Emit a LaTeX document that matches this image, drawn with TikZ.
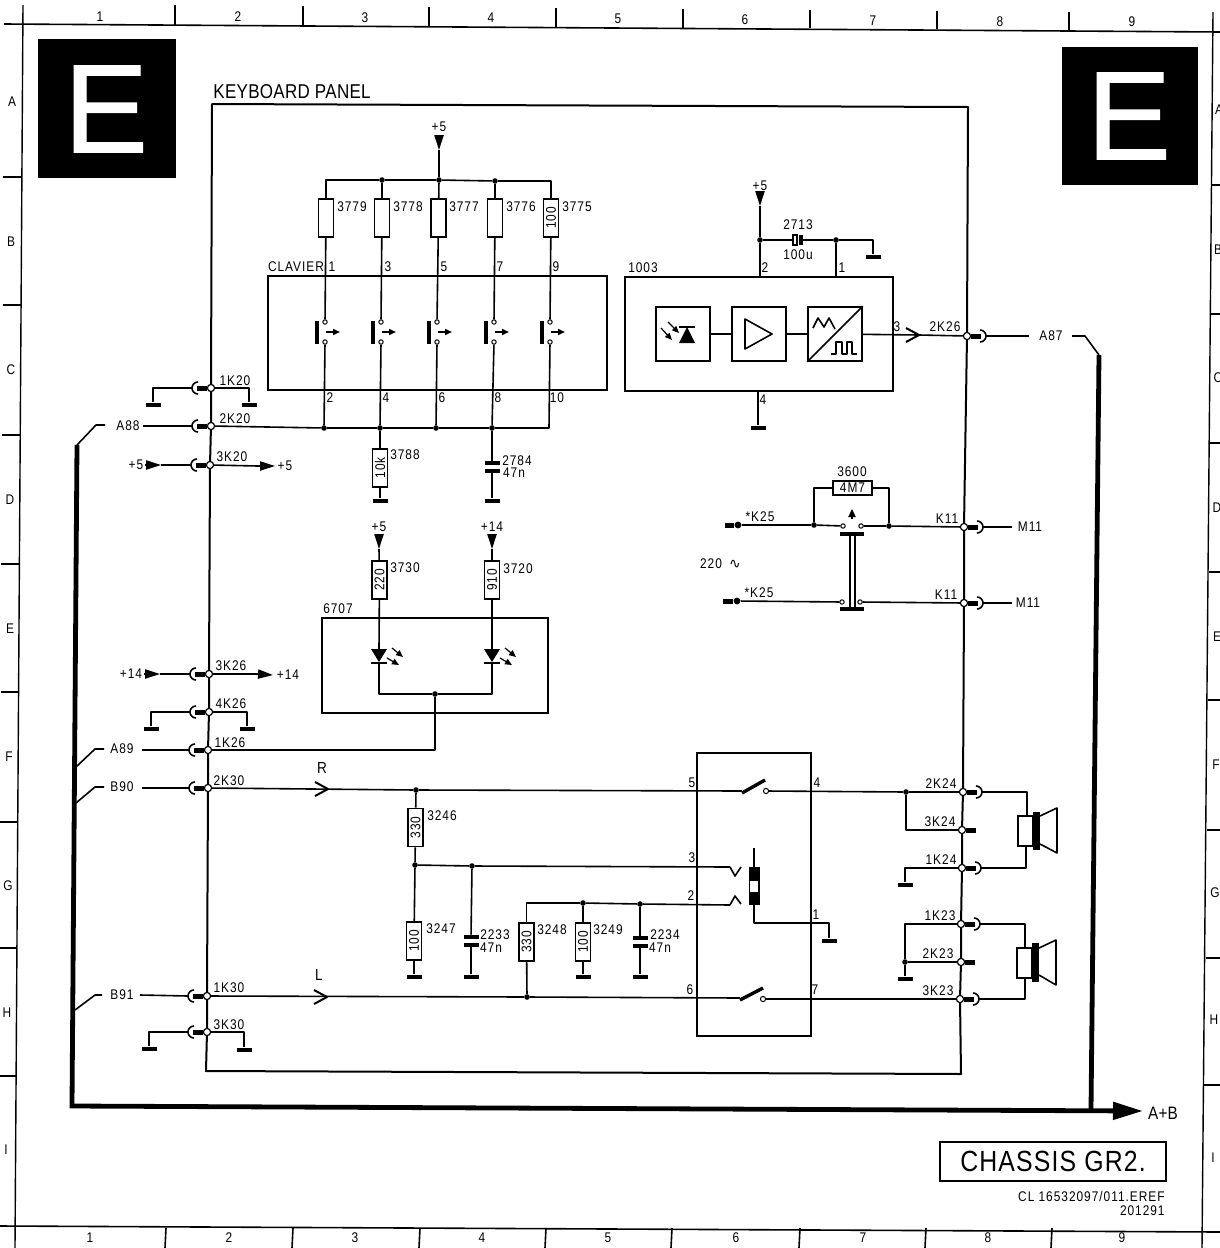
\documentclass[tikz,border=0pt]{standalone}
\usepackage{fontspec}
\usetikzlibrary{arrows.meta,fit}
\setmainfont[FakeStretch=0.85,LetterSpace=7]{Liberation Sans}
\newfontfamily\bigletterfont[FakeBold=1]{Liberation Sans}
\newfontfamily\widefont[FakeStretch=0.85,LetterSpace=4]{Liberation Sans}
\newfontfamily\kbfont[FakeStretch=0.85,LetterSpace=1.5]{Liberation Sans}
\newfontfamily\symfont{DejaVu Sans}
\newcounter{lbl}
\newcommand{\lab}[3]{\stepcounter{lbl}\node[txt] (t\arabic{lbl}) at (#1,#2) {#3};}
\newcommand{\plugL}[1]{\draw[stub] (#1.west) -- ([shift={(-14,0)}]#1.center);
  \draw[wire] ([shift={(-13,-6)}]#1.center) arc[start angle=90,end angle=270,radius=3pt];
  \coordinate (#1c) at ([shift={(-19,0)}]#1.center);}
\newcommand{\stubR}[1]{\draw[stub] (#1.east) -- ([shift={(14,0)}]#1.center);}
\newcommand{\plugR}[1]{\stubR{#1}
  \draw[wire] ([shift={(13,-6)}]#1.center) arc[start angle=90,end angle=-90,radius=3pt];
  \coordinate (#1c) at ([shift={(19,0)}]#1.center);}
\newcommand{\keyswitch}[2]{%
  \node[cont] (#1a) at (#2,322) {};
  \node[cont] (#1b) at (#2,342) {};
  \draw[line width=2pt] (#2-8,321) -- (#2-8,344);
  \draw[wire,-{Triangle[length=3.5pt,width=3pt]}] (#2+1,332) -- (#2+15,332);}
\newcommand{\chevR}[2]{\draw[wire,line width=1pt] (#1-13,#2-7) -- (#1,#2) -- (#1-13,#2+7);}
\tikzset{
  x=0.5pt,y=-0.5pt,
  wire/.style={line width=0.8pt,line join=round},
  bus/.style={line width=2.4pt,line join=miter},
  stub/.style={line width=2.5pt},
  box/.style={draw,line width=1pt,inner sep=0pt},
  junc/.style={circle,draw,fill=white,line width=0.6pt,inner sep=0pt,minimum size=3.6pt},
  cont/.style={circle,draw,fill=white,line width=0.5pt,inner sep=0pt,minimum size=2.2pt},
  dotn/.style={circle,fill=black,inner sep=0pt,minimum size=2.8pt},
  gnd/.style={rectangle,fill=black,inner sep=0pt,minimum width=7.5pt,minimum height=2.4pt},
  res/.style={draw,line width=0.8pt,rotate=90,inner sep=0pt,minimum width=19pt,minimum height=7.6pt,font=\fontsize{7}{8}\selectfont},
  resh/.style={draw,line width=0.8pt,inner sep=0pt,minimum width=19.5pt,minimum height=7pt,font=\fontsize{7}{8}\selectfont},
  txt/.style={inner sep=0pt,font=\fontsize{7}{8}\selectfont},
  supply/.style={line width=0.8pt,-{Triangle[length=7.5pt,width=4.6pt]}},
  led/.style={line width=0.6pt,-{Triangle[length=3.5pt,width=3pt]}},
}
\begin{document}
\begin{tikzpicture}
\useasboundingbox (0,0) rectangle (1220,1248);
\fill[white] (0,0) rectangle (1220,1248);
% sheet frame
\draw[line width=0.8pt] (4,24) -- (1220,32);
\draw[line width=0.8pt] (0,1226) -- (1220,1232);
\draw[line width=0.7pt] (23,5) -- (15,1248);
\draw[line width=0.7pt] (1213,12) -- (1202,1248);
\foreach \a/\b/\c in {175/5/25,303/6/26,429/7/26,556/8/27,683/9/28,810/10/28,937/11/29,1069/12/31}
  \draw[line width=0.8pt] (\a,\b) -- (\a,\c);
\foreach \a in {166,293,420,546,672,800,926,1052}
  \draw[line width=0.8pt] (\a,1228) -- (\a-1,1248);
\foreach \a/\b/\c in {177/3/22,305/3/21,435/2/21,564/1/20,692/1/19,822/0/18,948/0/17,1076/0/16}
  \draw[line width=0.7pt] (\b,\a) -- (\c,\a);
\foreach \a/\b in {185/1212,314/1211,443/1210,572/1209,700/1208,830/1207,958/1206,1085/1204}
  \draw[line width=0.7pt] (\b,\a) -- (1220,\a);
\foreach \s/\a/\b in {1/100/17,2/238/17,3/365/18,4/491/18,5/618/19,6/745/20,7/873/21,8/1000/22,9/1132/22}
  {\lab{\a}{\b}{\s}}
\foreach \s/\a in {1/90,2/229,3/355,4/482,5/608,6/736,7/863,8/988,9/1122}
  {\lab{\a}{1238}{\s}}
\foreach \s/\a/\b in {A/12/102,B/11/242,C/11/370,D/10/500,E/10/629,F/9/757,G/8/886,H/7/1013,I/6/1150}
  {\lab{\a}{\b}{\s}}
\foreach \s/\a/\b in {A/1219/110,B/1218/250,C/1218/378,D/1217/508,E/1217/637,F/1216/765,G/1215/893,H/1214/1020,I/1213/1158}
  {\lab{\a}{\b}{\s}}
% E flags
\node[fill=black,inner sep=0pt,fit={(38,39)(176,178)}] (flagL) {};
\node[fill=black,inner sep=0pt,fit={(1062,47)(1198,185)}] (flagR) {};
\node[text=white,inner sep=0pt,font=\bigletterfont\fontsize{63}{64}\selectfont] (eL) at (106,109) {E};
\node[text=white,inner sep=0pt,font=\bigletterfont\fontsize{63}{64}\selectfont] (eR) at (1129,116) {E};
\node[inner sep=0pt,anchor=west,font=\kbfont\fontsize{10}{12}\selectfont] (kbd) at (213,92) {KEYBOARD PANEL};
% junctions on the left rail
\node[junc] (j1K20) at (211,388) {};
\node[junc] (j2K20) at (211,426) {};
\node[junc] (j3K20) at (210,465) {};
\node[junc] (j3K26) at (209,674) {};
\node[junc] (j4K26) at (209,712) {};
\node[junc] (j1K26) at (208,750) {};
\node[junc] (j2K30) at (208,788) {};
\node[junc] (j1K30) at (207,996) {};
\node[junc] (j3K30) at (207,1032) {};
% junctions on the right rail
\node[junc] (j2K26) at (967,336) {};
\node[junc] (jK11a) at (964,527) {};
\node[junc] (jK11b) at (964,603) {};
\node[junc] (j2K24) at (963,792) {};
\node[junc] (j3K24) at (962,830) {};
\node[junc] (j1K24) at (962,868) {};
\node[junc] (j1K23) at (961,924) {};
\node[junc] (j2K23) at (961,962) {};
\node[junc] (j3K23) at (960,999) {};
\coordinate (tl) at (212,104);
\coordinate (tr) at (968,107);
\coordinate (bl) at (206,1071);
\coordinate (br) at (961,1074);
\draw[wire,line width=1pt] (j2K26) -- (tr) -- (tl) -- (j1K20) -- (j2K20) -- (j3K20) -- (j3K26) -- (j4K26) -- (j1K26) -- (j2K30) -- (j1K30) -- (j3K30) -- (bl) -- (br) -- (j3K23) -- (j2K23) -- (j1K23) -- (j1K24) -- (j3K24) -- (j2K24) -- (jK11b) -- (jK11a) -- (j2K26);
\foreach \n in {j1K20,j2K20,j3K20,j3K26,j4K26,j1K26,j2K30,j1K30,j3K30} {\plugL{\n}}
\foreach \n in {j2K26,jK11a,jK11b,j2K24,j1K24,j1K23,j3K23} {\plugR{\n}}
\stubR{j3K24}
\stubR{j2K23}
\lab{235}{381}{1K20}\lab{235}{419}{2K20}\lab{232}{457}{3K20}
\lab{231}{666}{3K26}\lab{231}{704}{4K26}\lab{230}{743}{1K26}\lab{229}{781}{2K30}\lab{229}{988}{1K30}\lab{229}{1025}{3K30}
\lab{945}{327}{2K26}\lab{947}{519}{K11}\lab{946}{595}{K11}
\lab{941}{784}{2K24}\lab{940}{822}{3K24}\lab{941}{860}{1K24}\lab{940}{916}{1K23}\lab{938}{954}{2K23}\lab{938}{991}{3K23}
% left plugs
\node[gnd] (g1) at (153,405) {};
\node[gnd] (g2) at (249,405) {};
\draw[wire] (j1K20c) -| (g1);
\draw[wire] (j1K20) -| (g2);
\node[gnd] (g3) at (151,729) {};
\node[gnd] (g4) at (247,729) {};
\draw[wire] (j4K26c) -| (g3);
\draw[wire] (j4K26) -| (g4);
\node[gnd] (g5) at (149,1049) {};
\node[gnd] (g6) at (244,1050) {};
\draw[wire] (j3K30c) -| (g5);
\draw[wire] (j3K30) -| (g6);
\lab{128}{426}{A88}\lab{122}{749}{A89}\lab{122}{787}{B90}\lab{122}{995}{B91}
\coordinate (a88) at (143,426);\coordinate (a89) at (142,750);\coordinate (b90) at (142,788);\coordinate (b91) at (140,995);
\draw[wire] (a88) -- (j2K20c);
\draw[wire] (a89) -- (j1K26c);
\draw[wire] (b90) -- (j2K30c);
\draw[wire] (b91) -- (j1K30c);
% +5 / +14 feeds on the left
\coordinate (p1a) at (145,465);\coordinate (p1b) at (161,465);
\draw[supply] (p1a) -- (p1b);\draw[wire] (p1b) -- (j3K20c);
\coordinate (p2a) at (258,466);\coordinate (p2b) at (275,466);
\draw[wire] (j3K20) -- (p2a);\draw[supply] (p2a) -- (p2b);
\lab{136}{465}{+5}\lab{285}{466}{+5}
\coordinate (p3a) at (144,674);\coordinate (p3b) at (160,674);
\draw[supply] (p3a) -- (p3b);\draw[wire] (p3b) -- (j3K26c);
\coordinate (p4a) at (257,674);\coordinate (p4b) at (273,675);
\draw[wire] (j3K26) -- (p4a);\draw[supply] (p4a) -- (p4b);
\lab{131}{674}{+14}\lab{288}{675}{+14}
% thick harness
\coordinate (hA) at (77,445);\coordinate (hB) at (72,1106);\coordinate (hC) at (1143,1111);\coordinate (hD) at (1091,1110);\coordinate (hE) at (1099,355);
\draw[bus,-{Triangle[length=15pt,width=8.5pt]}] (hA) -- (hB) -- (hC);
\draw[bus] (hE) -- (hD);
\lab{1163}{1113}{\kbfont\fontsize{9}{10}\selectfont A+B}
\draw[wire] (77,445) -- (96,425) -- (105,425);
\draw[wire] (76,767) -- (95,749) -- (104,749);
\draw[wire] (76,803) -- (95,787) -- (104,787);
\draw[wire] (75,1010) -- (95,995) -- (102,995);
\coordinate (a87a) at (1029,336);\coordinate (a87b) at (1072,336);
\draw[wire] (j2K26c) -- (a87a);
\draw[wire] (a87b) -- (1085,336) -- (hE);
\lab{1051}{336}{A87}
% clavier
\node[box,fit={(268,276)(607,390)}] (clavier) {};
\lab{296}{267}{CLAVIER}\lab{332}{267}{1}\lab{388}{267}{3}\lab{444}{267}{5}\lab{500}{267}{7}\lab{556}{267}{9}
\lab{330}{398}{2}\lab{386}{398}{4}\lab{442}{398}{6}\lab{498}{398}{8}\lab{557}{398}{10}
\coordinate (s1) at (439,135);\coordinate (s1t) at (439,150);
\draw[supply] (s1) -- (s1t);
\lab{439}{127}{+5}
\node[res] (R3779) at (326,218) {};
\node[res] (R3778) at (382,218) {};
\node[res] (R3777) at (438.5,218) {};
\node[res] (R3776) at (495,218) {};
\node[res] (R3775) at (551,218) {100};
\lab{352}{207}{3779}\lab{408}{207}{3778}\lab{464}{207}{3777}\lab{521}{207}{3776}\lab{577}{207}{3775}
\node[dotn] (r2) at (382,180) {};
\node[dotn] (r3) at (439,180) {};
\node[dotn] (r4) at (495,181) {};
\draw[wire] (s1t) -- (r3);
\draw[wire] (R3779) |- (r2);
\draw[wire] (r2) -- (r3) -- (r4);
\draw[wire] (r4) -| (R3775);
\draw[wire] (r2) -- (R3778);
\draw[wire] (r3) -- (R3777);
\draw[wire] (r4) -- (R3776);
\keyswitch{k1}{325}\keyswitch{k2}{381}\keyswitch{k3}{437}\keyswitch{k4}{494}\keyswitch{k5}{550}
\draw[wire] (R3779) -- (k1a);\draw[wire] (R3778) -- (k2a);\draw[wire] (R3777) -- (k3a);\draw[wire] (R3776) -- (k4a);\draw[wire] (R3775) -- (k5a);
\node[dotn] (d1) at (324,428) {};
\node[dotn] (d2) at (380,428) {};
\node[dotn] (d3) at (436,428) {};
\node[dotn] (d4) at (492,428) {};
\coordinate (d5) at (549,428);
\draw[wire] (j2K20) -- (d1) -- (d2) -- (d3) -- (d4) -- (d5) -- (k5b);
\draw[wire] (k1b) -- (d1);\draw[wire] (k2b) -- (d2);\draw[wire] (k3b) -- (d3);\draw[wire] (k4b) -- (d4);
% 3788 and 2784
\node[res] (R3788) at (380,468) {10k};
\node[gnd] (g7) at (380,501) {};
\draw[wire] (d2) -- (R3788);\draw[wire] (R3788) -- (g7);
\lab{405}{455}{3788}
\node[gnd,minimum height=2pt] (c2784a) at (492,463) {};
\node[gnd,minimum height=2pt] (c2784b) at (492,471) {};
\node[gnd] (g8) at (492,501) {};
\draw[wire] (d4) -- (c2784a);\draw[wire] (c2784b) -- (g8);
\lab{517}{461}{2784}\lab{514}{473}{47n}
% 6707
\node[box,fit={(322,618)(548,713)}] (b6707) {};
\lab{338}{609}{6707}
\coordinate (s2) at (379,535);\coordinate (s2t) at (379,549);
\coordinate (s3) at (492,535);\coordinate (s3t) at (492,549);
\draw[supply] (s2) -- (s2t);\draw[supply] (s3) -- (s3t);
\lab{379}{527}{+5}\lab{492}{527}{+14}
\node[res] (R3730) at (379.5,580) {220};
\node[res] (R3720) at (492,580) {910};
\lab{405}{568}{3730}\lab{518}{569}{3720}
\coordinate (l1) at (379,649);\coordinate (l2) at (492,649);
\draw[wire] (s2t) -- (R3730);\draw[wire] (s3t) -- (R3720);
\draw[wire] (R3730) -- (l1);\draw[wire] (R3720) -- (l2);
\fill (371,649) -- (387,649) -- (379,662) -- cycle;
\fill (484,649) -- (500,649) -- (492,662) -- cycle;
\draw[line width=1.4pt] (371,663) -- (387,663);
\draw[line width=1.4pt] (484,663) -- (500,663);
\draw[led] (392,648) -- (403,657);\draw[led] (387,658) -- (399,665);
\draw[led] (505,648) -- (516,657);\draw[led] (500,658) -- (512,665);
\node[dotn] (d6707) at (435,694) {};
\coordinate (l1b) at (379,663);\coordinate (l2b) at (492,663);
\draw[wire] (l1b) |- (d6707);
\draw[wire] (l2b) |- (d6707);
\draw[wire] (d6707) |- (j1K26);
% 1003
\node[box,fit={(625,277)(893,391)}] (b1003) {};
\node[box,line width=0.8pt,fit={(656,307)(710,361)}] (photo) {};
\node[box,line width=0.8pt,fit={(732,307)(786,361)}] (amp) {};
\node[box,line width=0.8pt,fit={(808,307)(862,361)}] (conv) {};
\lab{643}{268}{1003}\lab{765}{268}{2}\lab{842}{268}{1}\lab{897}{327}{3}\lab{763}{400}{4}
\draw[wire] (photo) -- (amp);\draw[wire] (amp) -- (conv);
\draw[wire] (745,319) -- (745,349) -- (772,334) -- cycle;
\draw[wire] (conv.south west) -- (conv.north east);
\draw[wire] (813,328) -- (818,318) -- (824,327) -- (829,318) -- (835,329);
\draw[wire] (831,354) -- (836,354) -- (836,342) -- (842,342) -- (842,354) -- (847,354) -- (847,342) -- (852,342) -- (852,354) -- (857,354);
\fill (687,327) -- (695,343) -- (679,343) -- cycle;
\draw[line width=1.4pt] (679,327) -- (695,327);
\draw[led] (668,322) -- (679,333);\draw[led] (661,328) -- (672,340);
\coordinate (ch3) at (919,335);
\draw[wire] (conv) -- (ch3);\draw[wire] (ch3) -- (j2K26);
\chevR{919}{335}
\coordinate (s4) at (760,192);\coordinate (s4t) at (760,206);
\draw[supply] (s4) -- (s4t);
\lab{760}{186}{+5}
\node[dotn] (d760) at (760,240) {};
\node[dotn] (d836) at (836,240) {};
\node[gnd] (g9) at (873,257) {};
\draw[wire] (s4t) -- (d760) -- (b1003.north -| d760);
\draw[wire] (d836) -- (b1003.north -| d836);
\draw[line width=0.7pt] (793,235) rectangle (797,245);
\node[fill=black,inner sep=0pt,minimum width=1.6pt,minimum height=5pt] (c2713) at (801,240) {};
\coordinate (c2713a) at (793,240);
\draw[wire] (d760) -- (c2713a);
\draw[wire] (c2713) -- (d836);
\draw[wire] (d836) -| (g9);
\lab{798}{225}{2713}\lab{798}{255}{100u}
\node[gnd] (g10) at (758,428) {};
\draw[wire] (b1003.south -| g10) -- (g10);
% mains switch
\node[resh] (R3600) at (852.5,488) {4M7};
\lab{852}{472}{3600}
\coordinate (ka) at (725,525);\coordinate (kb) at (723,601);
\node[dotn,minimum size=3.4pt] (kad) at (738,525) {};
\node[dotn,minimum size=3.4pt] (kbd2) at (737,601) {};
\draw[stub] (ka) -- (kad);\draw[stub] (kb) -- (kbd2);
\lab{760}{517}{*K25}\lab{759}{593}{*K25}
\node[dotn] (d814) at (814,525) {};
\node[dotn] (d889) at (889,526) {};
\node[cont] (ma) at (843,526) {};
\node[cont] (mb) at (861,526) {};
\node[cont] (mc) at (842,602) {};
\node[cont] (md) at (860,602) {};
\draw[wire] (kad) -- (d814) -- (ma);
\draw[wire] (mb) -- (d889) -- (jK11a);
\draw[wire] (d814) |- (R3600);
\draw[wire] (d889) |- (R3600);
\draw[wire] (kbd2) -- (mc);
\draw[wire] (md) -- (jK11b);
\draw[wire,-{Triangle[length=4pt,width=3.6pt]}] (852,519) -- (852,509);
\node[gnd,minimum width=12pt,minimum height=2.2pt] (bar1) at (852,534) {};
\node[gnd,minimum width=12pt,minimum height=2.2pt] (bar2) at (852,609) {};
\draw[line width=0.7pt] (850,534) -- (850,609);
\draw[line width=0.7pt] (855,534) -- (855,609);
\lab{711}{564}{220}\node[inner sep=0pt,font=\symfont\fontsize{7}{8}\selectfont] (sine) at (735,564) {∿};
\coordinate (m1) at (1012,527);\coordinate (m2) at (1012,603);
\draw[wire] (jK11ac) -- (m1);\draw[wire] (jK11bc) -- (m2);
\lab{1030}{527}{M11}\lab{1028}{603}{M11}
% audio switch block
\node[box,fit={(697,753)(811,1036)}] (b7) {};
\lab{692}{783}{5}\lab{817}{783}{4}\lab{692}{858}{3}\lab{691}{896}{2}\lab{816}{915}{1}\lab{690}{990}{6}\lab{815}{990}{7}
\coordinate (sw1) at (742,791);\coordinate (sw2) at (740,998);
\node[cont,minimum size=2.6pt] (sw1c) at (766,791) {};
\node[cont,minimum size=2.6pt] (sw2c) at (763,999) {};
\draw[line width=1.7pt] (742,793) -- (765,780);
\draw[line width=1.7pt] (740,1000) -- (763,988);
\node[dotn] (d416) at (416,790) {};
\draw[wire] (j2K30) -- (d416) -- (sw1);
\node[dotn] (d527) at (527,997) {};
\draw[wire] (j1K30) -- (d527) -- (sw2);
\chevR{328}{789}
\chevR{327}{997}
\lab{322}{768}{\fontsize{8}{9}\selectfont R}\lab{319}{975}{\fontsize{8}{9}\selectfont L}
\node[dotn] (d906) at (906,792) {};
\draw[wire] (sw1c) -- (d906) -- (j2K24);
\draw[wire] (d906) |- (j3K24);
\node[gnd] (g11) at (905,885) {};
\draw[wire] (j1K24) -| (g11);
\draw[wire] (sw2c) -- (j3K23);
\node[dotn] (d905) at (905,962) {};
\node[gnd] (g12) at (905,979) {};
\draw[wire] (j1K23) -| (d905);
\draw[wire] (d905) -- (j2K23);
\draw[wire] (d905) -- (g12);
% relay
\node[fill=black,inner sep=0pt,minimum width=5.5pt,minimum height=19pt] (coil) at (754,886) {};
\node[fill=white,inner sep=0pt,minimum width=3.6pt,minimum height=5.5pt] (coilw) at (754,886.5) {};
\coordinate (ct) at (754,848);
\draw[wire] (ct) -- (coil);
\node[gnd] (g13) at (829,941) {};
\draw[wire] (coil) |- (829,923) -- (g13);
\coordinate (rc3) at (730,867);\coordinate (rc2) at (730,905);
\draw[wire] (rc3) -- (735,876) -- (741,867);
\draw[wire] (rc2) -- (735,896) -- (741,904);
% resistor / capacitor ladder
\node[res] (R3246) at (415.5,827.5) {330};
\node[res] (R3247) at (414,941) {100};
\node[res] (R3248) at (526.5,942) {330};
\node[res] (R3249) at (583,942) {100};
\lab{442}{816}{3246}\lab{441}{929}{3247}\lab{552}{930}{3248}\lab{608}{930}{3249}
\node[dotn] (d415) at (415,865) {};
\node[dotn] (d472) at (472,866) {};
\node[dotn] (d583) at (583,903) {};
\node[dotn] (d640) at (640,904) {};
\node[gnd] (g14) at (414,977) {};
\node[gnd] (g15) at (471,977) {};
\node[gnd] (g16) at (583,977) {};
\node[gnd] (g17) at (640,977) {};
\draw[wire] (d416) -- (R3246);\draw[wire] (R3246) -- (d415);\draw[wire] (d415) -- (R3247);\draw[wire] (R3247) -- (g14);
\draw[wire] (d415) -- (d472) -- (rc3);
\draw[wire] (R3248) |- (d583);
\draw[wire] (d583) -- (d640) -- (rc2);
\draw[wire] (d583) -- (R3249);\draw[wire] (R3249) -- (g16);
\draw[wire] (R3248) -- (d527);
\node[gnd,minimum height=2pt] (c2233a) at (471,937) {};
\node[gnd,minimum height=2pt] (c2233b) at (471,945) {};
\node[gnd,minimum height=2pt] (c2234a) at (640,938) {};
\node[gnd,minimum height=2pt] (c2234b) at (640,946) {};
\draw[wire] (d472) -- (c2233a);\draw[wire] (c2233b) -- (g15);
\draw[wire] (d640) -- (c2234a);\draw[wire] (c2234b) -- (g17);
\lab{495}{935}{2233}\lab{491}{948}{47n}\lab{665}{935}{2234}\lab{660}{948}{47n}
% speakers
\node[draw,line width=0.8pt,inner sep=0pt,fit={(1018,816)(1033,846)}] (spk1) {};
\node[fill=black,inner sep=0pt,fit={(1033,812)(1040,850)}] (spk1b) {};
\draw[wire] (1040,816) -- (1057,808) -- (1057,853) -- (1040,844);
\node[draw,line width=0.8pt,inner sep=0pt,fit={(1017,948)(1032,978)}] (spk2) {};
\node[fill=black,inner sep=0pt,fit={(1032,943)(1039,982)}] (spk2b) {};
\draw[wire] (1039,948) -- (1056,940) -- (1056,985) -- (1039,975);
\coordinate (sp1t) at (1027,816);\coordinate (sp1b) at (1026,846);\coordinate (sp2t) at (1025,948);\coordinate (sp2b) at (1025,978);
\draw[wire] (j2K24c) -| (sp1t);
\draw[wire] (j1K24c) -| (sp1b);
\draw[wire] (j1K23c) -| (sp2t);
\draw[wire] (j3K23c) -| (sp2b);
% title
\node[box,fit={(940,1142)(1166,1181)}] (title) {};
\node[inner sep=0pt,font=\widefont\fontsize{14.6}{16}\selectfont] (titlet) at (title.center) {CHASSIS GR2.};
\node[txt,anchor=east] (ref1) at (1165,1196) {CL 16532097/011.EREF};
\node[txt,anchor=east] (ref2) at (1165,1211) {201291};
\end{tikzpicture}
\end{document}
